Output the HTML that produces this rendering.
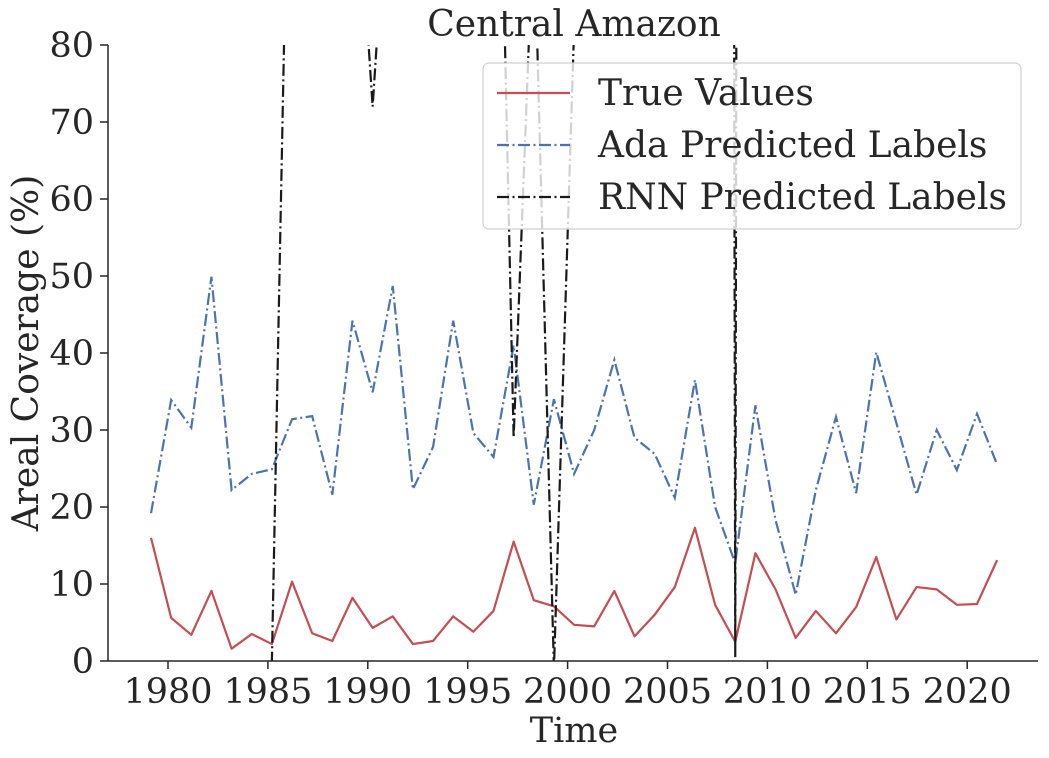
<!DOCTYPE html>
<html><head><meta charset="utf-8"><style>
html,body{margin:0;padding:0;background:#fff;overflow:hidden;width:1049px;height:758px;}
svg{display:block;}
svg text{font-family:"DejaVu Serif","Liberation Serif",serif;fill:#262626;}
</style></head><body>
<svg id="chart" width="1049" height="758" xmlns="http://www.w3.org/2000/svg">
<defs><clipPath id="plotclip"><rect x="108" y="45" width="930" height="616"/></clipPath></defs>
<g id="axes"></g>
<g id="series" clip-path="url(#plotclip)"></g>
<text x="574" y="36" text-anchor="middle" font-size="36">Central Amazon</text>
<text x="574" y="742" text-anchor="middle" font-size="35">Time</text>
<text transform="translate(38,353) rotate(-90)" text-anchor="middle" font-size="36">Areal Coverage (%)</text>
<g>
<rect x="483" y="63" width="538" height="166" rx="6" fill="#fff" fill-opacity="0.8" stroke="#d0d0d0" stroke-width="1.2"/>
<line x1="497" y1="93" x2="570" y2="93" stroke="#c44e52" stroke-width="2.2"/>
<text x="598" y="105" font-size="36">True Values</text>
<line x1="497" y1="145" x2="570" y2="145" stroke="#4c72b0" stroke-width="2.2" stroke-dasharray="12,3.5,2,3.5"/>
<text x="598" y="157" font-size="36">Ada Predicted Labels</text>
<line x1="497" y1="197" x2="570" y2="197" stroke="#1a1a1a" stroke-width="2.2" stroke-dasharray="12,3.5,2,3.5"/>
<text x="598" y="209" font-size="36">RNN Predicted Labels</text>
</g>
</svg>
<script>
const startYear = 1979.15;
const yearStep = 1.0083;
const trueValues = [16.0,5.6,3.4,9.1,1.6,3.5,2.2,10.3,3.6,2.6,8.2,4.3,5.8,2.2,2.6,5.8,3.8,6.5,15.5,7.9,7.1,4.7,4.5,9.1,3.2,6.0,9.6,17.3,7.3,2.5,14.0,9.3,3.0,6.5,3.6,7.0,13.5,5.4,9.6,9.3,7.3,7.4,13.1];
const adaValues = [19.2,33.9,30.3,49.9,22.2,24.3,24.9,31.4,31.8,21.6,44.2,34.9,48.7,22.3,27.8,44.2,29.6,26.5,41.0,20.3,34.0,24.3,30.0,39.1,29.0,26.9,21.2,36.5,20.0,12.7,33.2,18.3,8.6,22.2,31.7,21.8,40.1,30.9,21.6,30.0,24.8,32.1,25.5];
const rnnValues = [-500,-500,-500,-500,-500,-500,0,133,300,300,112,72,112,300,300,300,300,148,29,97,-1,82,300,300,300,300,300,1500,1500,0.5,1500,1500,1500,1500,1500,1500,1500,1500,1500,1500,1500,1500,1500];
const xTicks = [1980,1985,1990,1995,2000,2005,2010,2015,2020];
const yTicks = [0,10,20,30,40,50,60,70,80];

const NS = "http://www.w3.org/2000/svg";
function xs(t){return 168 + (t-1980)*19.98;}
function ys(v){return 661 - v*7.7;}
function mk(tag, attrs, parent){const e=document.createElementNS(NS,tag);for(const k in attrs)e.setAttribute(k,attrs[k]);parent.appendChild(e);return e;}
const axes=document.getElementById('axes'), series=document.getElementById('series');

let sp=mk('line',{x1:108,y1:45,x2:108,y2:661,stroke:'#262626','stroke-width':1.5},axes);


sp=mk('line',{x1:108,y1:661,x2:1038,y2:661,stroke:'#262626','stroke-width':1.5},axes);



xTicks.forEach(t=>{
  const x=xs(t);
  const tk=mk('line',{x1:x,y1:661,x2:x,y2:669,stroke:'#262626','stroke-width':1.5},axes);
  
  
  const lb=mk('text',{x:x,y:703,'text-anchor':'middle','font-size':35},axes);
  lb.textContent=t;
  
  
});
yTicks.forEach(v=>{
  const y=ys(v);
  const tk=mk('line',{x1:100,y1:y,x2:108,y2:y,stroke:'#262626','stroke-width':1.5},axes);
  
  
  const lb=mk('text',{x:94,y:y+12,'text-anchor':'end','font-size':35},axes);
  lb.textContent=v;
  
  
});

function pts(vals){return vals.map((v,i)=>xs(startYear+i*yearStep).toFixed(2)+','+ys(v).toFixed(2)).join(' ');}
let p=mk('polyline',{points:pts(trueValues),fill:'none',stroke:'#c44e52','stroke-width':2.2,'stroke-linejoin':'round'},series);


p=mk('polyline',{points:pts(adaValues),fill:'none',stroke:'#4c72b0','stroke-width':2.2,'stroke-dasharray':'12,3.5,2,3.5'},series);


p=mk('polyline',{points:pts(rnnValues),fill:'none',stroke:'#1a1a1a','stroke-width':2.2,'stroke-dasharray':'12,3.5,2,3.5'},series);


</script>
</body></html>
